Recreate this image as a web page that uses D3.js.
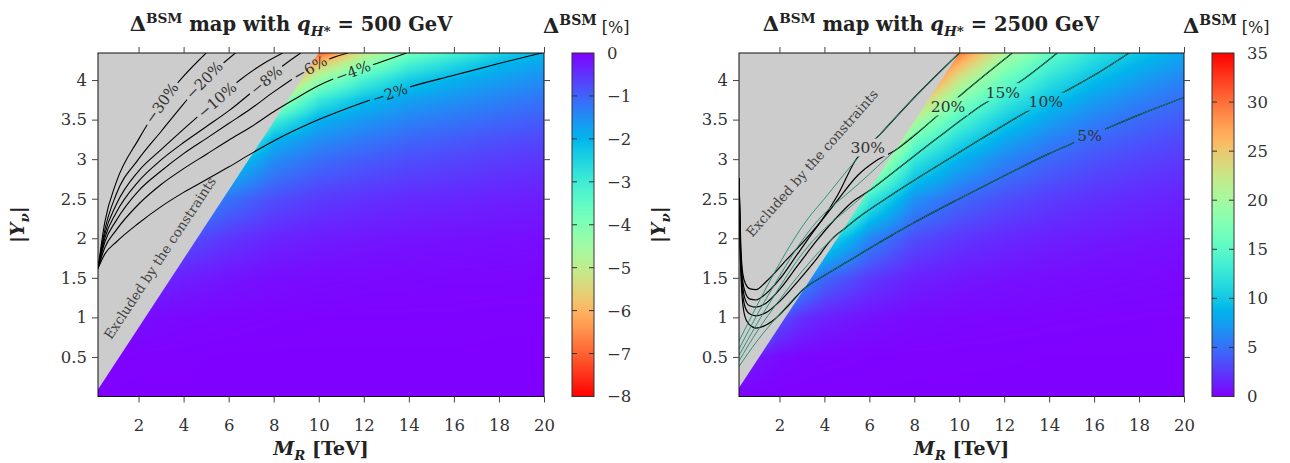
<!DOCTYPE html>
<html><head><meta charset="utf-8">
<script src="https://cdn.jsdelivr.net/npm/d3@7"></script>
<style>body{margin:0;background:#fff;} svg{display:block;}</style>
</head><body><svg id="chart" width="1290" height="463"></svg>
<script>
// ---------------- data ----------------
const mGrid = [0.2, 1, 2, 3, 4, 6, 8, 10, 12, 14, 16, 18, 20];
const yGrid = [0, 0.5, 1, 1.5, 2, 2.5, 3, 3.25, 3.5, 3.75, 4, 4.2, 4.35];
// Delta^BSM [%] for q = 500 GeV (rows = yGrid, columns = mGrid)
const leftDelta = [
  [0,0,0,0,0,0,0,0,0,0,0,0,0],
  [-0.03,-0.02,-0.01,-0.01,-0.01,0,0,0,0,0,0,0,0],
  [-0.37,-0.20,-0.13,-0.09,-0.07,-0.05,-0.03,-0.02,-0.02,-0.02,-0.02,-0.01,-0.01],
  [-1.53,-0.83,-0.53,-0.39,-0.30,-0.20,-0.13,-0.10,-0.08,-0.07,-0.06,-0.06,-0.05],
  [-7.1,-2.47,-1.45,-1.06,-0.82,-0.55,-0.37,-0.28,-0.23,-0.19,-0.17,-0.15,-0.13],
  [-8,-8,-4.43,-2.56,-1.79,-1.19,-0.80,-0.60,-0.50,-0.42,-0.38,-0.33,-0.29],
  [-8,-8,-8,-7.6,-4.95,-2.45,-1.51,-1.14,-0.95,-0.80,-0.71,-0.62,-0.55],
  [-8,-8,-8,-8,-8,-3.97,-2.0,-1.51,-1.26,-1.06,-0.94,-0.82,-0.72],
  [-8,-8,-8,-8,-8,-6.18,-3.12,-1.96,-1.63,-1.37,-1.22,-1.07,-0.94],
  [-8,-8,-8,-8,-8,-8,-4.72,-2.92,-2.13,-1.74,-1.55,-1.36,-1.19],
  [-8,-8,-8,-8,-8,-8,-6.95,-4.31,-3.14,-2.33,-1.95,-1.70,-1.49],
  [-8,-8,-8,-8,-8,-8,-8,-5.77,-4.21,-3.12,-2.56,-2.03,-1.77],
  [-8,-8,-8,-8,-8,-8,-8,-7.12,-5.20,-3.85,-3.16,-2.50,-2.00]
];
// Delta^BSM [%] for q = 2500 GeV
const rightDelta = [
  [0,0,0,0,0,0,0,0,0,0,0,0,0],
  [1.5,0.95,0.44,0.26,0.18,0.10,0.05,0.04,0.03,0.02,0.02,0.01,0.01],
  [10,7.91,3.56,2.08,1.40,0.77,0.43,0.30,0.23,0.17,0.14,0.11,0.09],
  [30,30.2,13.1,7.25,4.71,2.58,1.45,1.03,0.76,0.58,0.46,0.38,0.31],
  [35,35,33.9,18.8,12.1,6.24,3.42,2.44,1.80,1.38,1.09,0.89,0.74],
  [35,35,35,35,25.3,13.0,6.88,4.77,3.52,2.70,2.13,1.75,1.45],
  [35,35,35,35,35,23.8,12.6,8.66,6.21,4.67,3.69,3.02,2.50],
  [35,35,35,35,35,31.0,16.4,11.3,8.09,6.03,4.69,3.84,3.18],
  [35,35,35,35,35,35,20.9,14.4,10.3,7.71,5.95,4.79,3.97],
  [35,35,35,35,35,35,26.2,18.1,12.97,9.67,7.48,5.99,4.88],
  [35,35,35,35,35,35,32.4,22.4,16.0,11.97,9.25,7.41,6.03],
  [35,35,35,35,35,35,35,26.3,18.8,14.06,10.9,8.70,7.08],
  [35,35,35,35,35,35,35,29.5,21.1,15.8,12.2,9.77,7.95]
];
const xTicks = [2, 4, 6, 8, 10, 12, 14, 16, 18, 20];
const yTicks = [0.5, 1, 1.5, 2, 2.5, 3, 3.5, 4];
const leftCbTicks = [0, -1, -2, -3, -4, -5, -6, -7, -8];
const rightCbTicks = [0, 5, 10, 15, 20, 25, 30, 35];
// edge of the excluded region [M_R, |Y|]
const leftBoundary = [[0.2, 0.09], [10.0, 4.342]];
const rightBoundary = [[0.2, 0.11], [10.0, 4.342]];

// contour lines, q = 500 GeV
const leftLevels = [-30, -20, -10, -8, -6, -4, -2];
const leftLines = [
  [[0.2,1.62],[0.5,2.2],[1,2.7],[2,3.25],[3.02,3.71],[4,4.05],[5.0,4.342]],
  [[0.2,1.62],[0.5,2.1],[1,2.55],[2,3.0],[3,3.35],[4,3.7],[4.91,4.0],[5.5,4.15],[6.3,4.342]],
  [[0.2,1.62],[0.5,2.05],[1,2.42],[2,2.85],[3,3.12],[4,3.38],[5.48,3.75],[6.5,4.0],[7.5,4.2],[8.4,4.342]],
  [[0.2,1.62],[0.5,2.0],[1,2.32],[2,2.72],[3,2.99],[4,3.21],[5,3.41],[6,3.61],[7.66,4.0],[8.5,4.2],[9.2,4.342]],
  [[0.2,1.62],[0.5,1.95],[1,2.22],[2,2.6],[3,2.85],[4,3.07],[5,3.26],[6,3.45],[7,3.64],[8,3.85],[9.61,4.15],[10.5,4.27],[11.3,4.342]],
  [[0.2,1.62],[0.5,1.88],[1,2.1],[2,2.43],[3,2.68],[4,2.88],[5,3.06],[6,3.24],[7,3.41],[8,3.6],[9,3.77],[10,3.93],[11.52,4.11],[12.57,4.21],[13.9,4.342]],
  [[0.2,1.62],[0.5,1.8],[1,1.95],[2,2.19],[3,2.4],[4,2.58],[5,2.74],[6,2.9],[7,3.07],[8,3.23],[10,3.5],[12,3.72],[14,3.91],[16,4.06],[18,4.21],[20,4.35]]
];
const leftLabelM = [3.02, 4.91, 5.48, 7.66, 9.61, 11.52, 13.16];

// contour lines, q = 2500 GeV (green and black sets)
const rightLevels = [5, 10, 15, 20, 30];
const rightGreen = [
  [[0.2,0.38],[1,0.7],[2,1.04],[3.04,1.35],[4,1.53],[5,1.7],[6,1.87],[7,2.04],[8,2.2],[10,2.5],[12,2.79],[14,3.07],[15.2,3.22],[16.58,3.39],[18,3.56],[20,3.78]],
  [[0.2,0.45],[1,0.82],[2,1.22],[3,1.58],[4,1.9],[4.93,2.13],[5.5,2.26],[7,2.55],[9,2.91],[11,3.26],[13,3.6],[14.67,3.85],[16,4.06],[17.56,4.342]],
  [[0.2,0.52],[1,0.92],[2,1.38],[3,1.8],[4,2.12],[5,2.36],[5.94,2.59],[7,2.82],[9,3.26],[11,3.68],[12.81,4.0],[14.36,4.342]],
  [[0.2,0.6],[1,1.03],[2,1.52],[3,1.97],[3.88,2.28],[5,2.56],[5.57,2.7],[7.14,3.11],[8.83,3.5],[10.15,3.83],[12.36,4.342]],
  [[0.2,0.7],[1,1.15],[2,1.68],[3.22,2.23],[4,2.5],[5.35,2.97],[6.53,3.33],[8,3.78],[10,4.342]]
];
const rightBlack = [
  [[0.2,2.76],[0.24,2.0],[0.3,1.45],[0.4,1.1],[0.55,0.95],[0.8,0.88],[0.95,0.865],[1.3,0.89],[1.8,0.98],[2.4,1.15],[3.04,1.35]],
  [[0.2,2.76],[0.25,1.9],[0.32,1.45],[0.45,1.15],[0.65,1.05],[0.95,1.02],[1.4,1.06],[2,1.2],[2.8,1.45],[3.6,1.72],[4.3,1.98],[4.93,2.13]],
  [[0.2,2.76],[0.26,1.9],[0.33,1.5],[0.45,1.25],[0.65,1.15],[0.95,1.13],[1.4,1.18],[2,1.35],[2.8,1.65],[3.6,1.95],[4.5,2.25],[5.2,2.45],[5.94,2.59]],
  [[0.2,2.76],[0.27,1.9],[0.35,1.5],[0.5,1.3],[0.7,1.23],[0.95,1.22],[1.4,1.3],[2,1.48],[2.8,1.8],[3.6,2.12],[4.5,2.45],[5.5,2.8],[6.3,2.98],[7.14,3.11]],
  [[0.2,2.76],[0.28,1.9],[0.37,1.55],[0.5,1.42],[0.7,1.36],[0.95,1.35],[1.4,1.45],[2.32,1.73],[3.2,2.0],[3.88,2.23],[4.6,2.55],[5.35,2.97]]
];
const rightLabelM = [15.80, 13.85, 11.94, 9.50, 5.93];

// ---------------- drawing ----------------
const SERIF = '"DejaVu Serif","Liberation Serif",serif';
const svg = d3.select("#chart");
const defs = svg.append("defs");

function rainbow(t) {
  t = Math.max(0, Math.min(1, t));
  const r = Math.min(1, Math.abs(2 * t - 0.5)), g = Math.sin(Math.PI * t), b = Math.cos(Math.PI * t / 2);
  return [Math.round(r * 255), Math.round(g * 255), Math.round(b * 255)];
}
function sample(grid, M, Y) {
  let i = Math.max(0, Math.min(mGrid.length - 2, d3.bisectRight(mGrid, M) - 1));
  let j = Math.max(0, Math.min(yGrid.length - 2, d3.bisectRight(yGrid, Y) - 1));
  const tx = Math.max(0, Math.min(1, (M - mGrid[i]) / (mGrid[i + 1] - mGrid[i])));
  const ty = Math.max(0, Math.min(1, (Y - yGrid[j]) / (yGrid[j + 1] - yGrid[j])));
  return (1 - tx) * (1 - ty) * grid[j][i] + tx * (1 - ty) * grid[j][i + 1] + (1 - tx) * ty * grid[j + 1][i] + tx * ty * grid[j + 1][i + 1];
}
function interpAt(pts, M) {
  for (let k = 0; k < pts.length - 1; k++) {
    if (M >= pts[k][0] && M <= pts[k + 1][0]) {
      const f = (M - pts[k][0]) / (pts[k + 1][0] - pts[k][0]);
      return pts[k][1] + f * (pts[k + 1][1] - pts[k][1]);
    }
  }
  return pts[pts.length - 1][1];
}
function rich(sel, parts, size) {
  let shift = 0;
  parts.forEach(p => {
    const ts = sel.append("tspan").text(p.t);
    let target = p.sup ? -0.42 * size : p.sub ? 0.28 * size : 0;
    ts.attr("dy", target - shift); shift = target;
    ts.attr("font-size", p.sup || p.sub ? size * 0.7 : (p.size || size));
    if (p.it) ts.attr("font-style", "italic");
    if (p.w) ts.attr("font-weight", p.w);
  });
}

const panels = [
  { x0: 98, x1: 544, grid: leftDelta, t: v => -v / 8, boundary: leftBoundary,
    cbx: 572, cbTicks: leftCbTicks, cbDomain: [0, -8], q: "500", titleX: 291, cbTitleX: 543, ylabX: 24 },
  { x0: 739, x1: 1184, grid: rightDelta, t: v => v / 35, boundary: rightBoundary,
    cbx: 1212, cbTicks: rightCbTicks, cbDomain: [35, 0], q: "2500", titleX: 931, cbTitleX: 1183, ylabX: 665 }
];
const Y0 = 53, Y1 = 396.5, CBW = 22;

panels.forEach((p, pi) => {
  const x = d3.scaleLinear().domain([0.2, 20]).range([p.x0, p.x1]);
  const y = d3.scaleLinear().domain([0, 4.342]).range([Y1, Y0]);
  const g = svg.append("g");

  // heatmap
  const w = Math.round(p.x1 - p.x0), h = Math.round(Y1 - Y0);
  const cv = document.createElement("canvas"); cv.width = w; cv.height = h;
  const ctx = cv.getContext("2d"); const img = ctx.createImageData(w, h);
  for (let j = 0; j < h; j++) for (let i = 0; i < w; i++) {
    const M = x.invert(p.x0 + i + 0.5), Yv = y.invert(Y0 + j + 0.5);
    const c = rainbow(p.t(sample(p.grid, M, Yv)));
    const k = 4 * (j * w + i); img.data[k] = c[0]; img.data[k + 1] = c[1]; img.data[k + 2] = c[2]; img.data[k + 3] = 255;
  }
  ctx.putImageData(img, 0, 0);
  g.append("image").attr("x", p.x0).attr("y", Y0).attr("width", w).attr("height", h)
    .attr("preserveAspectRatio", "none").attr("href", cv.toDataURL());

  // excluded region
  const poly = [p.boundary[0], p.boundary[1], [0.2, 4.342]];
  g.append("path").attr("d", d3.line().x(d => x(d[0])).y(d => y(d[1]))(poly) + "Z").attr("fill", "#cccccc");

  defs.append("clipPath").attr("id", "clip" + pi).append("rect")
    .attr("x", p.x0).attr("y", Y0).attr("width", p.x1 - p.x0).attr("height", Y1 - Y0);

  const line = d3.line().x(d => x(d[0])).y(d => y(d[1])).curve(d3.curveMonotoneX);
  const mask = defs.append("mask").attr("id", "mask" + pi).attr("maskUnits", "userSpaceOnUse")
    .attr("x", 0).attr("y", 0).attr("width", 1290).attr("height", 463);
  mask.append("rect").attr("x", 0).attr("y", 0).attr("width", 1290).attr("height", 463).attr("fill", "white");
  const lg = g.append("g").attr("clip-path", `url(#clip${pi})`).append("g").attr("mask", `url(#mask${pi})`);
  const labG = g.append("g");

  if (pi === 0) {
    leftLines.forEach((pts, k) => {
      lg.append("path").attr("d", line(pts)).attr("fill", "none").attr("stroke", "#000").attr("stroke-width", 1.1);
      const Mx = leftLabelM[k], Yv = interpAt(pts, Mx);
      const px = x(Mx), py = y(Yv);
      const ax = x(Mx - 0.35), ay = y(interpAt(pts, Mx - 0.35)), bx = x(Mx + 0.35), by = y(interpAt(pts, Mx + 0.35));
      const ang = Math.atan2(by - ay, bx - ax) * 180 / Math.PI;
      const t = labG.append("text").attr("transform", `translate(${px},${py}) rotate(${ang})`)
        .attr("text-anchor", "middle").attr("dy", "0.36em").attr("font-family", SERIF).attr("font-size", 15)
        .attr("fill", "#333").text("\u2212" + Math.abs(leftLevels[k]) + "%");
      const tw = t.node().getComputedTextLength();
      mask.append("rect").attr("x", -tw / 2 - 3).attr("y", -8).attr("width", tw + 6).attr("height", 16)
        .attr("transform", `translate(${px},${py}) rotate(${ang})`).attr("fill", "black");
    });
  } else {
    rightBlack.forEach((pts, k) => {
      const last = pts[pts.length - 1][0];
      const full = pts.concat(rightGreen[k].filter(d => d[0] > last + 0.05));
      lg.append("path").attr("d", line(full)).attr("fill", "none").attr("stroke", "#000").attr("stroke-width", 1.2);
    });
    rightGreen.forEach((pts, k) => {
      lg.append("path").attr("d", line(pts)).attr("fill", "none").attr("stroke", "#1b8f70").attr("stroke-width", 0.9);
      const Mx = rightLabelM[k], Yv = interpAt(pts, Mx);
      const px = x(Mx), py = y(Yv);
      const t = labG.append("text").attr("x", px).attr("y", py).attr("text-anchor", "middle").attr("dy", "0.36em")
        .attr("font-family", SERIF).attr("font-size", 15.5).attr("fill", "#333").text(rightLevels[k] + "%");
      const tw = t.node().getComputedTextLength();
      mask.append("rect").attr("x", px - tw / 2 - 3).attr("y", py - 9).attr("width", tw + 6).attr("height", 18).attr("fill", "black");
    });
  }

  // excluded label
  const exPos = pi === 0 ? [x(2.95), y(1.75)] : [x(3.45), y(2.95)];
  const exAng = pi === 0 ? -56.5 : -48.5;
  g.append("text").attr("transform", `translate(${exPos[0]},${exPos[1]}) rotate(${exAng})`)
    .attr("text-anchor", "middle").attr("dy", "0.35em").attr("font-family", SERIF).attr("font-size", 13.5).attr("fill", "#444")
    .text("Excluded by the constraints");

  // frame
  g.append("rect").attr("x", p.x0).attr("y", Y0).attr("width", p.x1 - p.x0).attr("height", Y1 - Y0)
    .attr("fill", "none").attr("stroke", "#111").attr("stroke-width", 1);

  // axes
  const ax = (gen, tr, labels) => {
    const a = g.append("g").attr("transform", tr).call(gen);
    a.select(".domain").remove();
    a.selectAll("line").attr("stroke", "#444");
    a.attr("font-family", SERIF).attr("font-size", 16.5);
    a.selectAll("text").attr("fill", "#333");
    if (!labels) a.selectAll("text").remove();
    return a;
  };
  ax(d3.axisBottom(x).tickValues(xTicks).tickSize(6).tickSizeOuter(0).tickPadding(17).tickFormat(d => d), `translate(0,${Y1})`, true);
  ax(d3.axisTop(x).tickValues(xTicks).tickSize(6).tickSizeOuter(0), `translate(0,${Y0})`, false);
  ax(d3.axisLeft(y).tickValues(yTicks).tickSize(6).tickSizeOuter(0).tickPadding(5).tickFormat(d => d), `translate(${p.x0},0)`, true);
  ax(d3.axisRight(y).tickValues(yTicks).tickSize(6).tickSizeOuter(0), `translate(${p.x1},0)`, false);

  // colorbar
  const cy = d3.scaleLinear().domain(p.cbDomain).range([Y0, Y1]);
  const grad = defs.append("linearGradient").attr("id", "grad" + pi).attr("x1", 0).attr("y1", 0).attr("x2", 0).attr("y2", 1);
  d3.range(0, 1.0001, 0.025).forEach(o => {
    const v = p.cbDomain[0] + o * (p.cbDomain[1] - p.cbDomain[0]);
    const c = rainbow(p.t(v));
    grad.append("stop").attr("offset", o).attr("stop-color", `rgb(${c[0]},${c[1]},${c[2]})`);
  });
  g.append("rect").attr("x", p.cbx).attr("y", Y0).attr("width", CBW).attr("height", Y1 - Y0)
    .attr("fill", `url(#grad${pi})`).attr("stroke", "#333").attr("stroke-width", 1);
  p.cbTicks.forEach((v, k) => {
    const yy = cy(v);
    if (k > 0 && k < p.cbTicks.length - 1) {
      g.append("line").attr("x1", p.cbx).attr("x2", p.cbx + 5).attr("y1", yy).attr("y2", yy).attr("stroke", "#333");
      g.append("line").attr("x1", p.cbx + CBW - 5).attr("x2", p.cbx + CBW).attr("y1", yy).attr("y2", yy).attr("stroke", "#333");
    }
    g.append("text").attr("x", p.cbx + CBW + 13).attr("y", yy).attr("dy", "0.36em").attr("font-family", SERIF)
      .attr("font-size", 16.5).attr("fill", "#333").text(v < 0 ? "\u2212" + Math.abs(v) : v);
  });

  // titles
  const tt = g.append("text").attr("x", p.titleX).attr("y", 31).attr("text-anchor", "middle")
    .attr("font-family", SERIF).attr("font-weight", "bold").attr("fill", "#222");
  rich(tt, [{ t: "\u0394", size: 21 }, { t: "BSM", sup: true }, { t: " map with " }, { t: "q", it: true },
    { t: "H*", sub: true, it: true }, { t: " = " + p.q + " GeV" }], 19.5);
  const ct = g.append("text").attr("x", p.cbTitleX).attr("y", 33).attr("font-family", SERIF).attr("fill", "#222");
  rich(ct, [{ t: "\u0394", size: 21, w: "bold" }, { t: "BSM", sup: true, w: "bold" }, { t: " [%]", size: 16 }], 20);

  // axis labels
  const yl = g.append("text").attr("transform", `translate(${p.ylabX},${(Y0 + Y1) / 2}) rotate(-90)`)
    .attr("text-anchor", "middle").attr("font-family", SERIF).attr("font-weight", "bold").attr("fill", "#222");
  rich(yl, [{ t: "|" }, { t: "Y", it: true }, { t: "\u03bd", sub: true, it: true }, { t: "|" }], 19);
  const xl = g.append("text").attr("x", (p.x0 + p.x1) / 2).attr("y", 455).attr("text-anchor", "middle")
    .attr("font-family", SERIF).attr("font-weight", "bold").attr("fill", "#222");
  rich(xl, [{ t: "M", it: true }, { t: "R", sub: true, it: true }, { t: " [TeV]" }], 19);
});
</script></body></html>
